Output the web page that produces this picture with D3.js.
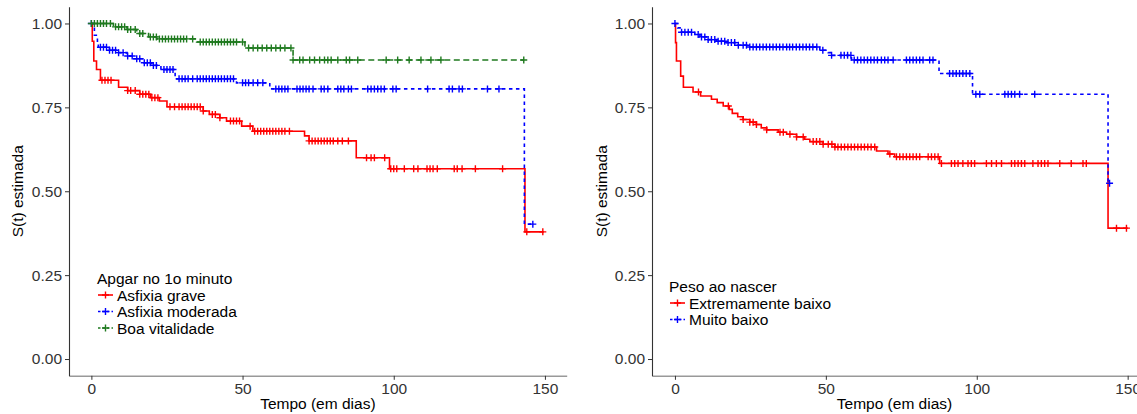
<!DOCTYPE html>
<html>
<head>
<meta charset="utf-8">
<script src="https://cdn.jsdelivr.net/npm/d3@7"></script>
<style>
  body { margin: 0; background: #fff; }
  svg { display: block; font-family: "Liberation Sans", Arial, sans-serif; }
</style>
</head>
<body>
<svg id="chart" width="1137" height="414"></svg>
<script>
// ---- data (Kaplan-Meier steps + censor times) ----
var yTicks = [0, 0.25, 0.5, 0.75, 1];
var xTicks = [0, 50, 100, 150];

// left panel: Apgar no 1o minuto
var graveT = [0, 0.3, 0.8, 1.7, 3, 9, 12, 16, 19.5, 22.5, 25, 37, 39, 42.5, 44.7, 49.7, 53.4, 70.5, 72, 87.6, 98.6, 143.4, 149.6];
var graveS = [1, 0.947, 0.888, 0.863, 0.831, 0.81, 0.8, 0.789, 0.779, 0.769, 0.752, 0.739, 0.729, 0.719, 0.709, 0.694, 0.679, 0.665, 0.65, 0.6, 0.567, 0.379, 0.379];
var graveC = [3.5, 4.5, 5.5, 6.5, 12, 13, 14.5, 16, 17, 18, 19, 20, 21, 22, 26, 27.5, 29, 30, 31, 32, 33, 34, 35, 36, 37, 40, 41, 42.5, 46, 47, 48, 49, 52.5, 54, 55, 56, 57, 58, 59, 60, 61, 62, 63, 64, 65.5, 72, 73, 74, 75, 76, 77, 78, 79, 80, 81.5, 83, 85, 91, 92.5, 93.6, 97, 99, 100, 101, 103.5, 106.6, 108, 111, 112, 113, 114.4, 120, 121, 122.6, 127, 136, 144, 149.3];

var moderadaT = [0, 1, 2, 2.3, 6, 9, 11.8, 14, 17, 20, 23, 27.7, 48, 59, 143.2, 146];
var moderadaS = [1, 0.965, 0.945, 0.929, 0.92, 0.913, 0.903, 0.895, 0.883, 0.875, 0.863, 0.835, 0.823, 0.805, 0.402, 0.402];
var moderadaC = [0, 3, 4, 5, 6, 7, 8, 9, 10.5, 12, 13.5, 15, 16, 17.5, 18.5, 19.5, 20.5, 21.5, 24, 25, 26, 27, 29, 30, 31, 32, 33.5, 35, 36, 37, 38, 39, 40, 41, 42, 43, 44, 45, 46, 47, 50, 51, 52, 53.5, 55, 56.7, 61, 62, 63, 64, 65, 68, 69, 70, 71, 72, 73.3, 76, 77, 78.2, 81.5, 82.5, 83.5, 85, 86, 91.4, 92.5, 93.6, 94.7, 95.8, 96.9, 99.7, 100.8, 111.2, 118.3, 119.4, 121.6, 122.7, 131, 134.8, 146];

var boaT = [0, 7.3, 11.8, 15, 18.9, 21.6, 34.8, 50.8, 66.7, 143];
var boaS = [1, 0.99, 0.982, 0.97, 0.96, 0.954, 0.945, 0.927, 0.891, 0.891];
var boaC = [0, 1, 2, 3, 4, 5, 6.3, 8, 9, 10, 11, 12, 13, 14.5, 16, 17, 19.5, 20.5, 21.5, 22.5, 23.5, 24.5, 25.5, 26.5, 27.5, 28.5, 29.5, 30.5, 31.5, 33.5, 36, 37, 38, 39, 40, 41, 42, 43, 44, 45, 46, 47, 48, 50, 52, 53.5, 55, 56.5, 58, 59.5, 61, 62.5, 64, 66, 66.7, 68.9, 70, 72.2, 73.8, 75.5, 77.1, 78.2, 79.3, 81.5, 84.3, 85.4, 88.1, 97.5, 101.3, 105.1, 109, 112.3, 115.6, 143];

// right panel: Peso ao nascer
var extT = [0, 0.2, 0.5, 1.9, 2.8, 6, 8.5, 12.1, 14, 16, 18, 19, 20.8, 22.6, 24.8, 27, 28.6, 30.4, 34.2, 37, 40.3, 43, 44.7, 49.1, 53, 66.8, 70.6, 72.8, 87.7, 143.5, 150];
var extS = [1, 0.943, 0.888, 0.843, 0.81, 0.796, 0.784, 0.774, 0.764, 0.754, 0.744, 0.732, 0.722, 0.714, 0.706, 0.699, 0.689, 0.683, 0.676, 0.67, 0.662, 0.655, 0.648, 0.64, 0.632, 0.62, 0.611, 0.603, 0.583, 0.39, 0.39];
var extC = [7.8, 17.7, 22.6, 24.8, 25.9, 27, 30.4, 34.8, 35.9, 38.1, 40.3, 42.5, 45.8, 46.9, 48, 49.1, 50.8, 52, 53, 54, 55.1, 56.2, 57.3, 58.4, 59.5, 60.6, 61.7, 62.8, 63.9, 65, 66.2, 71.2, 73.4, 74.5, 75.6, 76.7, 77.8, 78.9, 80, 81.1, 83.9, 85, 86.1, 87.2, 88.3, 91.6, 92.7, 93.8, 95.4, 97.1, 98.2, 99.3, 103.2, 104.9, 106.5, 108.2, 111.5, 112.6, 113.7, 114.8, 115.9, 118.6, 120.3, 121.4, 122.5, 123.6, 127.5, 131.3, 135.2, 136.3, 146.3, 149.6];

var muitoT = [0, 0.9, 1.7, 6.6, 8.3, 11, 13.8, 17.1, 21, 23.8, 48, 50.8, 51.5, 58.5, 87.5, 98.6, 143.5, 144];
var muitoS = [1, 0.987, 0.974, 0.967, 0.96, 0.952, 0.947, 0.943, 0.935, 0.93, 0.92, 0.913, 0.905, 0.891, 0.851, 0.789, 0.524, 0.524];
var muitoC = [0, 2.2, 3.3, 4.4, 5.5, 7.7, 8.8, 9.9, 11, 12.1, 13.2, 14.3, 15.4, 16.5, 17.6, 18.7, 19.8, 21, 22.6, 23.7, 24.8, 25.9, 27, 28.1, 29.2, 30.3, 31.4, 32.5, 33.6, 34.7, 35.8, 37, 38, 39, 40.2, 41.3, 42.4, 43.5, 44.6, 45.7, 47, 49, 51.9, 55, 56.1, 57.2, 58.3, 59.4, 60.5, 61.6, 62.7, 63.8, 64.9, 66, 67.1, 68.4, 69.5, 70.6, 72.3, 76.7, 77.8, 78.9, 80, 81.1, 82.2, 84.4, 85.5, 91, 92.1, 93.2, 94.3, 95.4, 96.5, 97.7, 99.7, 101, 109.3, 110.4, 111.5, 112.6, 114.2, 119.2, 144];

var RED = '#ff0000', BLUE = '#0000ff', GREEN = '#1f7a1f';

var panels = [
  {
    x0: 69, x1: 566.7, xDom: [-7.4, 157.2],
    ytitleX: 18, legendX: 97, legendY: 278, legendTitle: 'Apgar no 1o minuto',
    series: [
      {name: 'Asfixia grave', T: graveT, S: graveS, C: graveC, color: RED, dash: null},
      {name: 'Asfixia moderada', T: moderadaT, S: moderadaS, C: moderadaC, color: BLUE, dash: '3.5,3.5'},
      {name: 'Boa vitalidade', T: boaT, S: boaS, C: boaC, color: GREEN, dash: '6,3.5'}
    ]
  },
  {
    x0: 652, x1: 1150.3, xDom: [-7.6, 157.5],
    ytitleX: 602, legendX: 669, legendY: 286, legendTitle: 'Peso ao nascer',
    series: [
      {name: 'Extremamente baixo', T: extT, S: extS, C: extC, color: RED, dash: null},
      {name: 'Muito baixo', T: muitoT, S: muitoS, C: muitoC, color: BLUE, dash: '3.5,3.5'}
    ]
  }
];

var svg = d3.select('#chart');
var yTop = 6.7, yBot = 375.8;
var y = d3.scaleLinear().domain([-0.05, 1.05]).range([yBot, yTop]);

function stepAt(T, S, t) {
  var v = S[0];
  for (var i = 0; i < T.length; i++) { if (T[i] <= t) v = S[i]; }
  return v;
}

function plus(g, cx, cy, color) {
  g.append('path')
    .attr('d', 'M' + (cx - 3.5) + ',' + cy + 'h7M' + cx + ',' + (cy - 3.5) + 'v7')
    .attr('stroke', color).attr('stroke-width', 1.4).attr('fill', 'none');
}

panels.forEach(function (p) {
  var x = d3.scaleLinear().domain(p.xDom).range([p.x0, p.x1]);
  var g = svg.append('g');

  // axes
  var xa = g.append('g').attr('transform', 'translate(0,' + yBot + ')')
    .call(d3.axisBottom(x).tickValues(xTicks).tickSize(4).tickSizeOuter(0).tickPadding(3).tickFormat(d3.format('d')));
  xa.select('.domain').attr('stroke', '#999').attr('stroke-width', 1.6);
  var ya = g.append('g').attr('transform', 'translate(' + p.x0 + ',0)')
    .call(d3.axisLeft(y).tickValues(yTicks).tickSize(4).tickSizeOuter(0).tickPadding(3).tickFormat(d3.format('.2f')));
  ya.select('.domain').attr('stroke', '#333').attr('stroke-width', 1.1);
  [xa, ya].forEach(function (a) {
    a.selectAll('.tick line').attr('stroke', '#333');
    a.selectAll('.tick text').attr('fill', '#333').style('font-size', '15.5px')
      .style('font-family', '"Liberation Sans", Arial, sans-serif');
  });

  g.append('text').attr('x', (p.x0 + Math.min(p.x1, 1137)) / 2).attr('y', 409)
    .attr('text-anchor', 'middle').style('font-size', '15.5px').text('Tempo (em dias)');
  g.append('text').attr('transform', 'translate(' + (p.ytitleX + 5) + ',' + y(0.5) + ') rotate(-90)')
    .attr('text-anchor', 'middle').style('font-size', '15.5px').text('S(t) estimada');

  // curves
  var line = d3.line().x(function (d) { return x(d[0]); }).y(function (d) { return y(d[1]); })
    .curve(d3.curveStepAfter);
  p.series.forEach(function (s) {
    var pts = s.T.map(function (t, i) { return [t, s.S[i]]; });
    g.append('path').datum(pts).attr('d', line).attr('fill', 'none')
      .attr('stroke', s.color).attr('stroke-width', 1.6)
      .attr('stroke-dasharray', s.dash);
    var mg = g.append('g');
    s.C.forEach(function (t) { plus(mg, x(t), y(stepAt(s.T, s.S, t)), s.color); });
  });

  // legend
  var lg = g.append('g');
  lg.append('text').attr('x', p.legendX).attr('y', p.legendY + 5.5)
    .style('font-size', '15.5px').text(p.legendTitle);
  p.series.forEach(function (s, i) {
    var cy = p.legendY + 17 + i * 16.5;
    lg.append('line').attr('x1', p.legendX + 1).attr('x2', p.legendX + 16)
      .attr('y1', cy).attr('y2', cy).attr('stroke', s.color).attr('stroke-width', 1.6)
      .attr('stroke-dasharray', s.dash ? '2.5,2' : null);
    plus(lg, p.legendX + 8.5, cy, s.color);
    lg.append('text').attr('x', p.legendX + 20).attr('y', cy + 5.5)
      .style('font-size', '15.5px').text(s.name);
  });
});
</script>
</body>
</html>
